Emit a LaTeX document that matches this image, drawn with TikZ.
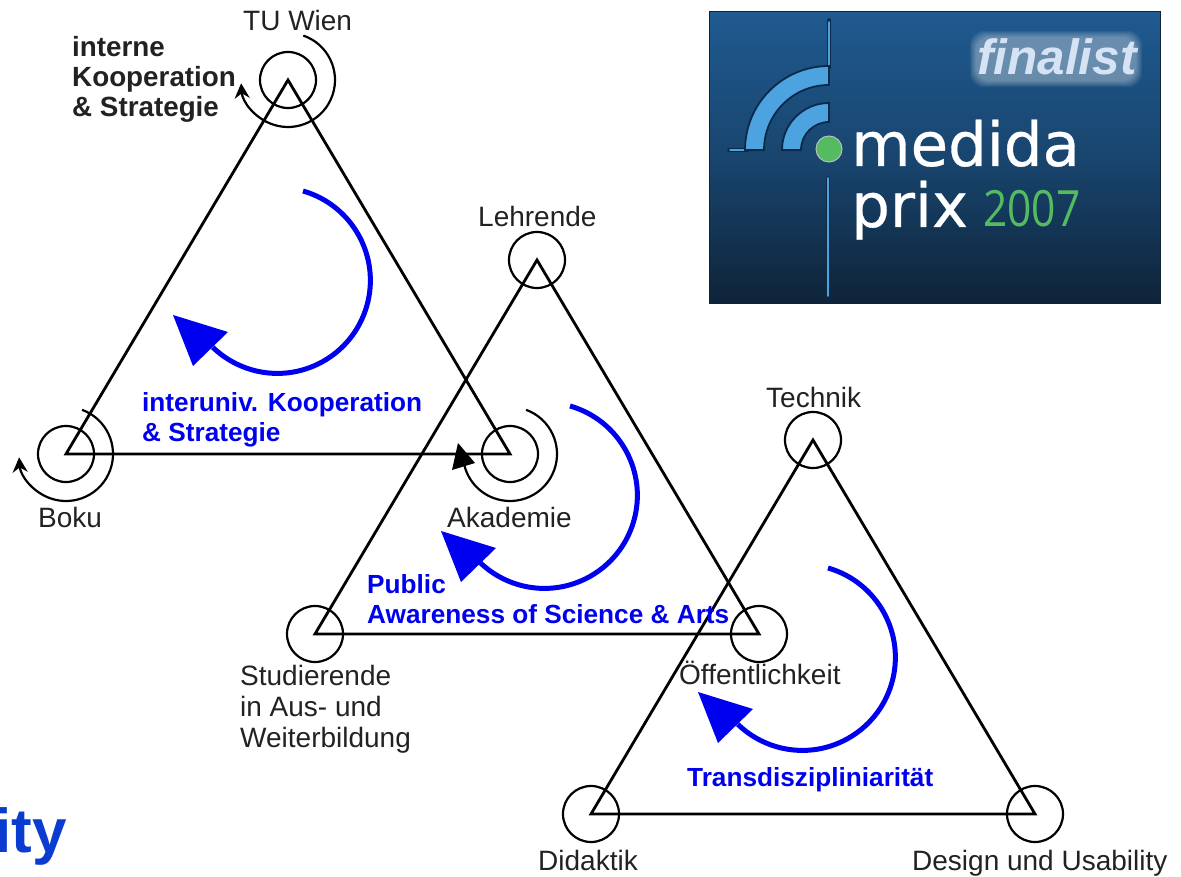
\documentclass[tikz,border=0pt]{standalone}
\usepackage{fontspec}
\setmainfont{Liberation Sans}
\newfontfamily\logofont[FakeBold=0.5]{DejaVu Sans}
\newfontfamily\yearfont[FakeStretch=0.85]{Open Sans}
\usetikzlibrary{arrows.meta,calc}
\definecolor{ink}{HTML}{222222}
\definecolor{kblue}{HTML}{0000F0}
\definecolor{itycol}{HTML}{0A3CD2}
\definecolor{logotop}{HTML}{1F5A90}
\definecolor{logobot}{HTML}{0E2338}
\definecolor{wifi}{HTML}{4DA3E0}
\definecolor{wifiedge}{HTML}{0B2A48}
\definecolor{dotgreen}{HTML}{55BB60}
\definecolor{fincol}{HTML}{D5E3F5}
\tikzset{
  ring/.style={circle,draw=black,line width=2.2pt,minimum size=56pt,inner sep=0pt},
  tri/.style={draw=black,line width=2.8pt,line join=miter},
  swirl/.style={draw=black,line width=2.2pt},
  bigarc/.style={draw=kblue,line width=5pt},
  bighead/.style={fill=kblue,draw=none},
  lab/.style={text=ink,anchor=base west,inner sep=0pt,font=\fontsize{28}{31}\selectfont,align=left},
  labb/.style={text=ink,anchor=north west,inner sep=0pt,font=\fontsize{28}{31}\selectfont,align=left},
  bold/.style={text=ink,anchor=north west,inner sep=0pt,font=\bfseries\fontsize{27.8}{30}\selectfont,align=left},
  boldblue/.style={bold,text=kblue,font=\bfseries\fontsize{26.2}{30}\selectfont},
  logotext/.style={anchor=base west,inner sep=0pt,text=white,font=\logofont\fontsize{61}{66}\selectfont},
  wificore/.style={draw=wifi,line cap=round},
  wifidark/.style={draw=wifiedge,line cap=round},
  wifiband/.style={fill=wifi,draw=wifiedge,line width=1.8pt},
}
\begin{document}
\begin{tikzpicture}[x=1pt,y=1pt,yscale=-1]
\useasboundingbox (0,0) rectangle (1181,877);
% triangles
\coordinate (a1) at (288,80); \coordinate (b1) at (66,454); \coordinate (c1) at (510,454);
\coordinate (a2) at (537,260); \coordinate (b2) at (315,634); \coordinate (c2) at (759,634);
\coordinate (a3) at (813,440); \coordinate (b3) at (591,814); \coordinate (c3) at (1035,814);
\draw[tri] (a1)--(b1)--(c1)--cycle;
\draw[tri] (a2)--(b2)--(c2)--cycle;
\draw[tri] (a3)--(b3)--(c3)--cycle;
\foreach \n in {a1,b1,c1,a2,b2,c2,a3,b3,c3} \node[ring] (r\n) at (\n) {};
% swirls
\draw[swirl,-{Stealth[length=15pt,width=15pt]}] ($(a1)+(-71:47)$) arc[start angle=-71,end angle=176,radius=47];
\draw[swirl,-{Stealth[length=15pt,width=15pt]}] ($(b1)+(-70:47)$) arc[start angle=-70,end angle=176,radius=47];
\draw[swirl] ($(c1)+(-70:47)$) arc[start angle=-70,end angle=170,radius=47];
\fill[black] (458,443) -- (475,463) -- (452,470) -- cycle;
% blue arcs
\draw[bigarc] (303,191) arc[start angle=-74,end angle=134,radius=93];
\fill[bighead] (173,315) -- (228,332) -- (193,366) -- cycle;
\draw[bigarc] (570,406) arc[start angle=-74,end angle=134,radius=93];
\fill[bighead] (441,531) -- (496,548) -- (461,582) -- cycle;
\draw[bigarc] (828,568) arc[start angle=-74,end angle=134,radius=93];
\fill[bighead] (698,692) -- (753,709) -- (718,743) -- cycle;
% labels
\node[lab] (lw) at (243,31) {TU Wien};
\node[bold] (li) at (72,36) {interne\\Kooperation\\\& Strategie};
\node[lab] (lb) at (38,527) {Boku};
\node[lab] (lak) at (447,527) {Akademie};
\node[lab] (ll) at (478,227) {Lehrende};
\node[labb] (ls) at (240,665) {Studierende\\in Aus- und\\Weiterbildung};
\node[lab] (lo) at (679,684) {Öffentlichkeit};
\node[lab] (lt) at (766,407) {Technik};
\node[lab] (ld) at (538,870) {Didaktik};
\node[lab] (lu) at (912,870) {Design und Usability};
\node[boldblue] (li2) at (142,392) {interuniv. Kooperation\\\& Strategie};
\node[boldblue] (lp) at (367,574) {Public\\Awareness of Science \& Arts};
\node[boldblue,anchor=base west] (ltr) at (687,786) {Transdiszipliniarität};
\node[anchor=base west,inner sep=0pt,text=itycol,font=\bfseries\fontsize{62}{66}\selectfont] (lity) at (-6,852) {ity};
% logo
\shade[top color=logotop,bottom color=logobot,middle color=logotop!62!logobot] (709,12) rectangle (1160,304);
\draw[logobot,line width=1pt] (709,12) rectangle (1160,304);
\foreach \m in {0,1,...,6} \fill[white,opacity=.06,rounded corners=14pt] (970+\m,31+\m) rectangle (1142-\m,87-\m);
\draw[wifidark,line width=3.5pt] (829,20) -- (829,68);
\draw[wificore,line width=1.4pt] (829,22) -- (829,66);
\draw[wifidark,line width=3.5pt] (729,150) -- (748,150);
\draw[wificore,line width=1.4pt] (730,150) -- (748,150);
\filldraw[wifiband] (745,150) arc[start angle=180,end angle=270,radius=84] -- (829,85) arc[start angle=270,end angle=180,radius=65] -- cycle;
\filldraw[wifiband] (782,150) arc[start angle=180,end angle=270,radius=47] -- (829,122) arc[start angle=270,end angle=180,radius=28] -- cycle;
\node[circle,fill=dotgreen,draw=white!70!logobot,line width=1pt,minimum size=26pt,inner sep=0pt] (dot) at (829,149) {};
\draw[wifidark,line width=3.5pt] (828,178) -- (828,296);
\draw[wificore,line width=1.8pt] (828,178) -- (828,296);
\node[logotext] (medida) at (851,166) {medida};
\node[logotext] (prix) at (851,227) {prix};
\node[anchor=base west,inner sep=0pt,text=dotgreen,font=\yearfont\fontsize{50}{54}\selectfont] (yr) at (983,227) {2007};
\node[anchor=base west,inner sep=0pt,text=fincol,font=\itshape\bfseries\fontsize{49.5}{54}\selectfont] (fin) at (977,75) {finalist};
\end{tikzpicture}
\end{document}
